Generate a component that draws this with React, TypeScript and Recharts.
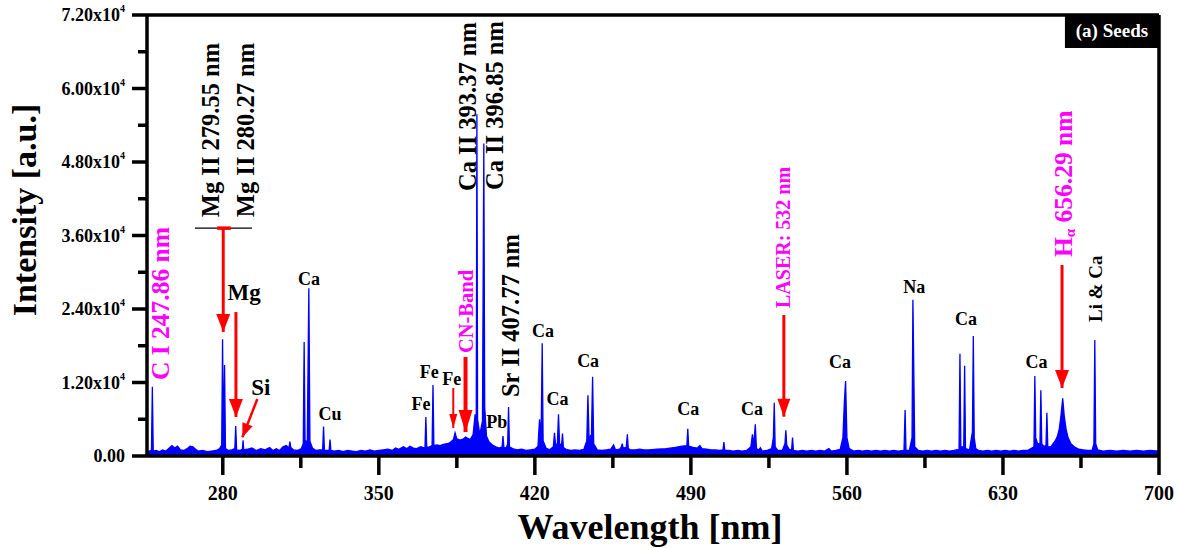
import React from 'react';
import { ComposedChart, Area, XAxis, YAxis, ReferenceLine, ReferenceDot, ReferenceArea } from 'recharts';

const FONT = '"Liberation Serif", "Times New Roman", Times, serif';
const BLUE = '#0000FF';
const RED = '#FF0000';
const MAGENTA = '#FF00FF';

// ---- spectrum (wavelength nm, intensity a.u.) ----
const uvSpectrum: [number, number][] = [
  [246.0, 700], [247.0, 800], [248.0, 900], [248.4, 11300], [248.8, 800], [250.0, 900], [251.5, 700],
  [253.0, 1000], [254.5, 800], [256.0, 1300], [257.2, 1700], [258.4, 1300], [259.7, 1600], [261.0, 1000],
  [262.5, 900], [264.0, 1200], [265.3, 1600], [266.6, 1500], [267.8, 1100], [269.0, 800], [271.0, 900],
  [273.0, 700], [275.0, 800], [277.0, 900], [278.6, 1200], [279.5, 1800], [279.9, 19050], [280.3, 2000],
  [280.8, 14860], [281.2, 1200], [282.5, 900], [284.0, 1000], [285.4, 1200], [285.8, 4900], [286.2, 1000],
  [287.5, 900], [288.8, 1100], [289.1, 2560], [289.4, 1000], [291.0, 1100], [293.0, 1300], [295.0, 900],
  [297.0, 1200], [299.0, 1000],
];

const midUvSpectrum: [number, number][] = [
  [301.0, 1400], [302.5, 900], [304.0, 1200], [305.5, 900], [307.0, 1500], [308.5, 1700], [309.7, 1300],
  [310.1, 2340], [310.5, 1400], [311.8, 1000], [313.5, 900], [315.2, 1200], [316.1, 2000], [316.5, 18600],
  [316.9, 2600], [317.9, 2200], [318.6, 27400], [319.1, 2400], [320.2, 1300], [321.8, 900], [323.4, 1000],
  [324.8, 1000], [325.2, 4800], [325.6, 900], [327.7, 900], [328.1, 2700], [328.5, 900], [330.0, 800],
  [332.0, 900], [334.0, 700], [336.0, 900], [338.0, 800], [340.0, 700], [342.0, 900], [344.0, 800],
  [346.0, 1000], [348.0, 800], [350.0, 900], [352.0, 1000], [354.0, 1100], [356.0, 900], [357.5, 1300],
  [359.0, 1100], [361.0, 1500], [362.5, 1200], [364.0, 1600], [365.5, 1300], [367.0, 1200], [368.8, 1500],
  [370.7, 1300],
];

const violetSpectrum: [number, number][] = [
  [371.1, 6370], [371.5, 1400], [372.7, 1500], [373.9, 1700], [374.3, 11600], [374.7, 1700], [376.0, 1800],
  [377.5, 1700], [379.0, 1900], [380.5, 2000], [382.0, 2200], [383.5, 2700], [384.2, 3800], [385.0, 2800],
  [386.5, 2600], [388.0, 2800], [389.0, 3100], [389.8, 2900], [391.0, 2700], [392.3, 3500], [393.2, 6800],
  [393.7, 5500], [394.0, 55800], [394.3, 6000], [395.3, 3500], [396.5, 5700], [397.1, 51000], [397.5, 8000],
  [398.3, 3200], [399.5, 2300], [401.0, 1800], [402.5, 1500], [404.0, 1300], [405.3, 1500], [405.7, 3270],
  [406.1, 1400], [407.2, 1300], [407.8, 2000], [408.2, 8000], [408.6, 1500], [410.0, 1200], [412.0, 1000],
  [414.0, 1100], [416.0, 900], [418.0, 1000], [420.0, 1100],
];

const blueSpectrum: [number, number][] = [
  [421.4, 1600], [422.1, 6000], [422.8, 3000], [423.3, 18400], [423.7, 2500], [425.0, 1300], [426.6, 1000],
  [428.3, 1500], [428.8, 3800], [429.3, 1800], [430.1, 2000], [430.6, 6800], [431.1, 2000], [432.0, 1800],
  [432.4, 3650], [432.8, 1400], [434.0, 1100], [436.0, 900], [438.0, 1000], [440.0, 900], [442.0, 1100],
  [443.3, 2500], [443.8, 9900], [444.3, 3000], [445.4, 3500], [445.9, 12950], [446.4, 2000], [448.0, 1000],
  [450.0, 900], [452.0, 1000], [454.0, 1100], [455.3, 1800], [456.2, 1000], [458.0, 1100], [458.8, 1500],
  [459.2, 2000], [459.6, 1300], [461.0, 1400], [461.5, 3540], [461.9, 1200], [463.0, 1000], [465.0, 1000],
  [467.0, 1100], [469.0, 1000], [471.0, 1000], [475.0, 1100], [479.0, 1200], [483.0, 1400], [486.0, 1600],
  [488.2, 1700], [488.6, 4460], [489.0, 1600], [491.0, 1400], [493.0, 1300], [494.0, 1700], [495.0, 1200],
  [497.0, 1100], [499.0, 1000],
];

const greenSpectrum: [number, number][] = [
  [501.0, 1000], [503.0, 900], [504.4, 1000], [504.8, 2290], [505.2, 900], [507.0, 900], [509.0, 800],
  [511.0, 900], [513.0, 800], [515.0, 900], [516.9, 1500], [517.6, 3540], [518.2, 1800], [518.9, 5170],
  [519.4, 1200], [520.5, 1000], [521.2, 1360], [522.0, 800], [524.0, 900], [526.2, 1200], [527.0, 3000],
  [527.4, 8700], [527.8, 1500], [529.0, 900], [531.0, 900], [532.2, 2000], [532.6, 4200], [533.0, 1800],
  [534.2, 1000], [535.2, 1100], [535.6, 3000], [536.0, 900], [538.0, 800], [540.0, 900], [542.0, 800],
  [544.0, 900], [546.0, 800], [548.0, 900], [550.0, 800], [551.9, 1200], [553.0, 800], [555.0, 900],
  [557.0, 1100], [558.2, 3000], [558.8, 8500], [559.4, 12250], [560.0, 3000], [561.0, 1200], [563.0, 800],
  [565.0, 900], [567.0, 800], [569.0, 900], [571.0, 800], [573.0, 900], [575.0, 800], [577.0, 900],
  [579.0, 800],
];

const redSpectrum: [number, number][] = [
  [581.0, 900], [583.0, 800], [585.6, 900], [586.1, 7500], [586.5, 900], [588.0, 900], [589.2, 3000],
  [589.6, 25500], [590.0, 14000], [590.4, 1500], [592.0, 900], [594.0, 800], [596.0, 900], [598.0, 800],
  [600.0, 900], [602.0, 800], [604.0, 900], [606.0, 800], [608.0, 900], [610.3, 1100], [610.7, 16700],
  [611.1, 1500], [612.4, 1500], [612.8, 14750], [613.2, 1200], [615.0, 1000], [616.3, 4000], [616.7, 19600],
  [617.1, 3000], [617.8, 1200], [619.0, 900], [621.0, 800], [623.0, 900], [625.0, 800], [627.0, 900],
  [629.0, 800], [631.0, 900], [633.0, 800], [635.0, 900], [637.0, 800], [639.0, 900], [641.0, 900],
  [643.9, 1500], [644.3, 13060], [644.7, 3000], [645.5, 2000], [646.6, 2000], [647.0, 10730], [647.4, 2000],
  [648.5, 1500], [649.3, 1800], [649.7, 7070], [650.1, 1500], [651.5, 1500], [652.5, 2000], [653.5, 2500],
  [654.5, 3300], [655.3, 4500], [656.0, 6500], [656.8, 9420], [657.5, 6500], [658.3, 4400], [659.2, 3000],
  [660.5, 2000], [662.0, 1500], [664.0, 1100], [666.0, 1000], [668.0, 900], [670.0, 900], [670.8, 2000],
  [671.2, 18940], [671.6, 2000], [672.5, 1000], [675.0, 800], [678.0, 900], [681.0, 800], [684.0, 900],
  [687.0, 800], [690.0, 900], [693.0, 800], [696.0, 900], [700.0, 800],
];

const spectrum = [...uvSpectrum, ...midUvSpectrum, ...violetSpectrum, ...blueSpectrum, ...greenSpectrum, ...redSpectrum]
  .map(([wl, intensity]) => ({ wl, intensity }));

// ---- axes ----
const xTicks = [280, 315, 350, 385, 420, 455, 490, 525, 560, 595, 630, 665, 700];
const xMajorTicks = [280, 350, 420, 490, 560, 630, 700];
const yTicks = [0, 6000, 12000, 18000, 24000, 30000, 36000, 42000, 48000, 54000, 60000, 66000, 72000];
const yMajorTicks = [0, 12000, 24000, 36000, 48000, 60000, 72000];
const yTickMantissas = ['0.00', '1.20', '2.40', '3.60', '4.80', '6.00', '7.20'];

// ---- annotations ----
const verticalLabels = [
  { text: 'C I 247.86 nm', wl: 252.0, at: 12400, color: MAGENTA, size: 25.5 },
  { text: 'Mg II 279.55 nm', wl: 274.3, at: 39000, color: '#000', size: 24.5 },
  { text: 'Mg II 280.27 nm', wl: 290.0, at: 39000, color: '#000', size: 24.5 },
  { text: 'CN-Band', wl: 388.9, at: 16800, color: MAGENTA, size: 20.5 },
  { text: 'Ca II 393.37 nm', wl: 390.0, at: 43270, color: '#000', size: 24.5 },
  { text: 'Ca II 396.85 nm', wl: 402.1, at: 43430, color: '#000', size: 24.5 },
  { text: 'Sr II 407.77 nm', wl: 408.9, at: 9630, color: '#000', size: 24.5 },
  { text: 'LASER: 532 nm', wl: 531.3, at: 24160, color: MAGENTA, size: 20 },
  { text: 'Li & Ca', wl: 671.3, at: 21880, color: '#000', size: 19 },
];

const elementLabels = [
  { text: 'Mg', wl: 289.6, at: 25470, size: 23 },
  { text: 'Si', wl: 297.1, at: 9960, size: 23 },
  { text: 'Ca', wl: 318.7, at: 27900, size: 18 },
  { text: 'Cu', wl: 328.1, at: 5880, size: 18 },
  { text: 'Fe', wl: 368.9, at: 7510, size: 18 },
  { text: 'Fe', wl: 372.6, at: 12735, size: 18 },
  { text: 'Fe', wl: 382.7, at: 11590, size: 18 },
  { text: 'Pb', wl: 402.9, at: 4520, size: 18 },
  { text: 'Ca', wl: 423.7, at: 19480, size: 18 },
  { text: 'Ca', wl: 430.2, at: 8330, size: 18 },
  { text: 'Ca', wl: 443.9, at: 14580, size: 18 },
  { text: 'Ca', wl: 488.8, at: 6690, size: 18 },
  { text: 'Ca', wl: 517.4, at: 6690, size: 18 },
  { text: 'Ca', wl: 556.9, at: 14320, size: 18 },
  { text: 'Na', wl: 590.2, at: 26660, size: 18 },
  { text: 'Ca', wl: 613.4, at: 21390, size: 18 },
  { text: 'Ca', wl: 645.1, at: 14320, size: 18 },
];

const arrows = [
  { from: [280.2, 37200], to: [280.2, 20250], w: 3, hw: 14, hl: 18, angle: 0 },
  { from: [285.9, 23500], to: [285.9, 6370], w: 3, hw: 14, hl: 18, angle: 0 },
  { from: [295.5, 9310], to: [288.8, 3050], w: 2.5, hw: 11, hl: 14, angle: 21.4 },
  { from: [383.4, 11100], to: [383.4, 4570], w: 2, hw: 8, hl: 14, angle: 0 },
  { from: [388.9, 16160], to: [388.9, 3920], w: 4, hw: 14, hl: 22, angle: 0 },
  { from: [531.7, 23020], to: [531.7, 6420], w: 3, hw: 13, hl: 18, angle: 0 },
  { from: [656.5, 31180], to: [656.5, 11100], w: 3, hw: 14, hl: 18, angle: 0 },
];

const mgBracket = { left: 267.5, right: 293.1, redLeft: 277.5, redRight: 283.6, at: 37200 };
const hAlpha = { wl: 656.9, at: 32490 };
const panelBox = { x1: 657.8, x2: 700, y1: 66614, y2: 72000, text: '(a) Seeds' };

const renderXTick = (props: any) => {
  const { x, y, payload } = props;
  const v = payload.value;
  const major = xMajorTicks.includes(v);
  return (
    <g>
      <line x1={x} x2={x} y1={y} y2={y + (major ? 19 : 12)} stroke="#000" strokeWidth={3.5} />
      {major && (
        <text x={x} y={y + 44} textAnchor="middle" fontSize={20} fontWeight="bold" fontFamily={FONT} fill="#000">
          {v}
        </text>
      )}
    </g>
  );
};

const renderYTick = (props: any) => {
  const { x, y, payload } = props;
  const v = payload.value;
  const idx = yMajorTicks.indexOf(v);
  const major = idx >= 0;
  return (
    <g>
      <line x1={x} x2={x - (major ? 15 : 9)} y1={y} y2={y} stroke="#000" strokeWidth={3.5} />
      {major && (
        <text x={x - 22} y={y + 6} textAnchor="end" fontSize={18} fontWeight="bold" fontFamily={FONT} fill="#000">
          <tspan>{yTickMantissas[idx]}</tspan>
          {v > 0 && <tspan>x10</tspan>}
          {v > 0 && <tspan dy={-9} fontSize={10}>4</tspan>}
        </text>
      )}
    </g>
  );
};

const renderXTitle = (props: any) => {
  const vb = props.viewBox || {};
  return (
    <text x={vb.x + vb.width / 2 - 3} y={vb.y + 83} textAnchor="middle" fontSize={36} fontWeight="bold" fontFamily={FONT} fill="#000">
      Wavelength [nm]
    </text>
  );
};

const renderYTitle = (props: any) => {
  const vb = props.viewBox || {};
  const x = vb.x + 36;
  const y = vb.y + 195;
  return (
    <text x={x} y={y} transform={`rotate(-90 ${x} ${y})`} textAnchor="middle" fontSize={34} fontWeight="bold" fontFamily={FONT} fill="#000">
      Intensity [a.u.]
    </text>
  );
};

const renderPanelLabel = (props: any) => {
  const vb = props.viewBox || {};
  return (
    <text x={vb.x + vb.width / 2} y={vb.y + vb.height / 2 + 6} textAnchor="middle" fontSize={19} fontWeight="bold" fontFamily={FONT} fill="#fff">
      {panelBox.text}
    </text>
  );
};

export default function App() {
  return (
    <div style={{ position: 'absolute', left: 0, top: 0, width: 1178, height: 548, background: '#fff' }}>
      <ComposedChart width={1178} height={548} data={spectrum} margin={{ top: 15, right: 19, bottom: 0, left: 0 }}>
        <XAxis
          dataKey="wl"
          type="number"
          domain={[246, 700]}
          ticks={xTicks}
          interval={0}
          tickSize={0}
          tickMargin={0}
          tickLine={false}
          axisLine={{ stroke: '#000', strokeWidth: 3.5 }}
          tick={renderXTick}
          height={92}
          allowDataOverflow
          label={{ content: renderXTitle }}
        />
        <YAxis
          type="number"
          domain={[0, 72000]}
          ticks={yTicks}
          interval={0}
          tickSize={0}
          tickMargin={0}
          tickLine={false}
          axisLine={{ stroke: '#000', strokeWidth: 3.5 }}
          tick={renderYTick}
          width={147}
          allowDataOverflow
          label={{ content: renderYTitle }}
        />
        <Area
          type="linear"
          dataKey="intensity"
          stroke={BLUE}
          strokeWidth={1.3}
          fill={BLUE}
          fillOpacity={1}
          dot={false}
          activeDot={false}
          isAnimationActive={false}
        />
        <ReferenceLine y={72000} stroke="#000" strokeWidth={3.5} ifOverflow="visible" />
        <ReferenceLine x={700} stroke="#000" strokeWidth={3.5} ifOverflow="visible" />
        <ReferenceArea
          x1={panelBox.x1}
          x2={panelBox.x2}
          y1={panelBox.y1}
          y2={panelBox.y2}
          fill="#000"
          fillOpacity={1}
          stroke="none"
          ifOverflow="visible"
          label={{ content: renderPanelLabel }}
        />
        <ReferenceLine
          segment={[{ x: mgBracket.left, y: mgBracket.at }, { x: mgBracket.right, y: mgBracket.at }]}
          stroke="#000"
          strokeWidth={1.2}
          ifOverflow="visible"
        />
        <ReferenceLine
          segment={[{ x: mgBracket.redLeft, y: mgBracket.at }, { x: mgBracket.redRight, y: mgBracket.at }]}
          stroke={RED}
          strokeWidth={3.5}
          ifOverflow="visible"
        />
        {arrows.map((a, i) => (
          <ReferenceLine
            key={`as${i}`}
            segment={[{ x: a.from[0], y: a.from[1] }, { x: a.to[0], y: a.to[1] }]}
            stroke={RED}
            strokeWidth={a.w}
            ifOverflow="visible"
          />
        ))}
        {arrows.map((a, i) => (
          <ReferenceDot
            key={`ah${i}`}
            x={a.to[0]}
            y={a.to[1]}
            r={1}
            ifOverflow="visible"
            shape={(p: any) => (
              <polygon
                points={`${p.cx},${p.cy} ${p.cx - a.hw / 2},${p.cy - a.hl} ${p.cx + a.hw / 2},${p.cy - a.hl}`}
                fill={RED}
                transform={`rotate(${a.angle} ${p.cx} ${p.cy})`}
              />
            )}
          />
        ))}
        {verticalLabels.map((l, i) => (
          <ReferenceDot
            key={`vl${i}`}
            x={l.wl}
            y={l.at}
            r={1}
            ifOverflow="visible"
            shape={(p: any) => (
              <text
                x={p.cx}
                y={p.cy}
                transform={`rotate(-90 ${p.cx} ${p.cy})`}
                textAnchor="start"
                dominantBaseline="central"
                fontSize={l.size}
                fontWeight="bold"
                fontFamily={FONT}
                fill={l.color}
              >
                {l.text}
              </text>
            )}
          />
        ))}
        <ReferenceDot
          x={hAlpha.wl}
          y={hAlpha.at}
          r={1}
          ifOverflow="visible"
          shape={(p: any) => (
            <text
              x={p.cx}
              y={p.cy}
              transform={`rotate(-90 ${p.cx} ${p.cy})`}
              textAnchor="start"
              dominantBaseline="central"
              fontSize={25.5}
              fontWeight="bold"
              fontFamily={FONT}
              fill={MAGENTA}
            >
              <tspan>H</tspan>
              <tspan dy={7} fontSize={15}>α</tspan>
              <tspan dy={-7}> 656.29 nm</tspan>
            </text>
          )}
        />
        {elementLabels.map((l, i) => (
          <ReferenceDot
            key={`el${i}`}
            x={l.wl}
            y={l.at}
            r={1}
            ifOverflow="visible"
            shape={(p: any) => (
              <text x={p.cx} y={p.cy} textAnchor="middle" fontSize={l.size} fontWeight="bold" fontFamily={FONT} fill="#000">
                {l.text}
              </text>
            )}
          />
        ))}
      </ComposedChart>
    </div>
  );
}
